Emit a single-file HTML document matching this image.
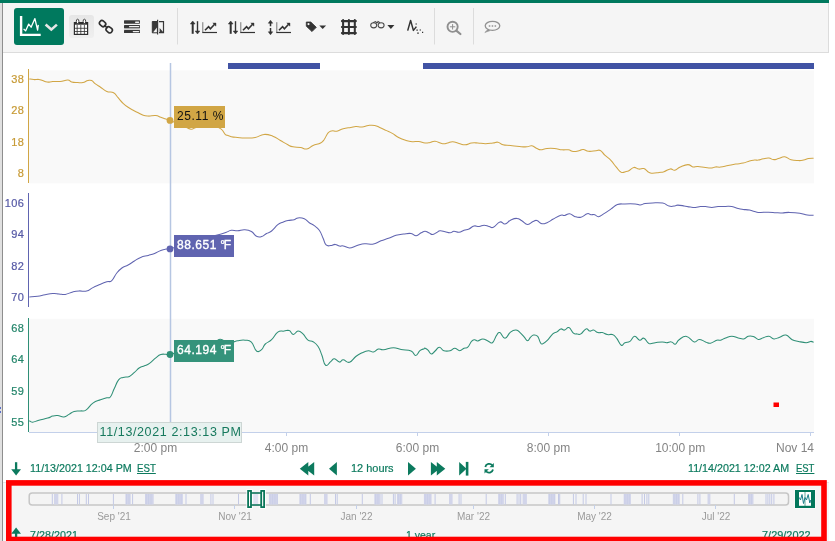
<!DOCTYPE html>
<html><head><meta charset="utf-8"><title>Trend</title>
<style>
html,body{margin:0;padding:0;background:#fff;}
body{width:835px;height:541px;overflow:hidden;position:relative;font-family:"Liberation Sans",sans-serif;}
.abs{position:absolute;}
.t{position:absolute;white-space:nowrap;line-height:1;}
.yl{position:absolute;width:24.4px;text-align:right;font-size:11px;line-height:11px;left:0;letter-spacing:0.4px;-webkit-text-stroke:0.2px currentColor;}
.xl{position:absolute;font-size:12px;line-height:12px;color:#848484;width:80px;text-align:center;top:442px;}
.sl{position:absolute;font-size:10px;line-height:11px;color:#9a9a9a;width:60px;text-align:center;top:511px;}
.g{color:#0c7a5e;font-size:11px;line-height:11px;transform-origin:0 50%;-webkit-text-stroke:0.2px #0c7a5e;}
.dg{letter-spacing:-1.4px;margin-left:-0.6px;}
.wt{-webkit-text-stroke:0.35px #fff;}
.val{position:absolute;height:22px;line-height:21px;font-size:12px;letter-spacing:0.55px;padding-left:3px;box-sizing:border-box;white-space:nowrap;}
</style></head><body>
<div class="abs" style="left:0;top:0;width:829px;height:3px;background:#00795e;"></div>
<div class="abs" style="left:0;top:3px;width:2px;height:538px;background:#e0e0e0;"></div>
<div class="abs" style="left:2px;top:3px;width:1px;height:538px;background:#8e8e8e;"></div>
<div class="abs" style="left:3px;top:3px;width:825px;height:49px;background:#f5f5f5;border-right:1px solid #dcdcdc;border-bottom:1px solid #dcdcdc;"></div>
<div class="abs" style="left:14px;top:8px;width:50px;height:37px;background:#00795e;border-radius:3px;"></div>
<div class="abs" style="left:69px;top:15px;width:25px;height:23px;background:linear-gradient(#e6e6e6,#efefef);border-radius:3px;"></div>

<svg class="abs" style="left:0;top:0;" width="835" height="541" viewBox="0 0 835 541">
<!-- TOOLBAR ICONS -->
<g id="icons">
<!-- trend icon -->
<path d="M21.1 16.1 V34.9 H40.7" fill="none" stroke="#fff" stroke-width="2.4"/>
<path d="M23.6 28.9 L25.6 30.9 L28.7 24.1 L31.1 27.2 L34.9 18.6 L37.6 30.2 L38.3 24.8" fill="none" stroke="#fff" stroke-width="1.3" stroke-linejoin="round"/>
<path d="M45.6 24.6 L51.3 29.6 L56.9 24.6" fill="none" stroke="#e6e6e6" stroke-width="2.6"/>
<!-- calendar -->
<g stroke="#2e2e2e" fill="none">
<rect x="74.4" y="22.6" width="13.2" height="11.8" stroke-width="1.2" fill="#fdfdfd"/>
<path d="M74 23.4 H88" stroke-width="2.6"/>
<path d="M77.2 25 V34.5 M80.8 25 V34.5 M84.4 25 V34.5 M74.5 28.3 H87.5 M74.5 31.5 H87.5" stroke-width="0.8"/>
<ellipse cx="77.6" cy="21.4" rx="1.3" ry="2.2" fill="#fff" stroke-width="0.9"/>
<ellipse cx="84.4" cy="21.4" rx="1.3" ry="2.2" fill="#fff" stroke-width="0.9"/>
</g>
<!-- link -->
<g stroke="#2e2e2e" stroke-width="1.6" fill="none">
<rect x="-3.3" y="-2.5" width="6.6" height="5" rx="2.4" transform="translate(102.6,23.6) rotate(40)"/>
<rect x="-3.3" y="-2.5" width="6.6" height="5" rx="2.4" transform="translate(109.2,29.8) rotate(40)"/>
<path d="M104 25 L107.6 28.3" stroke-width="1.5"/>
</g>
<!-- bars -->
<g>
<rect x="124" y="26.6" width="16" height="4" fill="#d2d2d2"/>
<rect x="124" y="20.3" width="16" height="3.4" rx="0.6" fill="#383838"/><rect x="124" y="25" width="16" height="3.2" rx="0.6" fill="#383838"/><rect x="124" y="29.9" width="16" height="3.2" rx="0.6" fill="#383838"/>
<rect x="135" y="21.6" width="4.3" height="1.4" rx="0.7" fill="#f0f0f0"/><rect x="129" y="26" width="10.3" height="1.3" rx="0.6" fill="#f0f0f0"/><rect x="132.7" y="30.9" width="6.6" height="1.3" rx="0.6" fill="#f0f0f0"/>
</g>
<!-- compare -->
<g>
<path d="M152.3 21.5 H157 V32.8 H152.3 Z" fill="#383838" stroke="#383838" stroke-width="1" stroke-linejoin="round"/>
<path d="M157.6 19.8 V34.5" stroke="#383838" stroke-width="1.2"/>
<path d="M159 21.6 H163.5 V32.7 H159" fill="none" stroke="#383838" stroke-width="1.2"/>
<path d="M153.2 32.3 H156.9 V27.6 Z" fill="#f5f5f5"/>
<path d="M159.6 28 V32.8 H163.8 Z" fill="#383838"/>
</g>
<path d="M177.5 8 V44.5 M434.5 8 V44.5 M473.5 8 V44.5" stroke="#dcdcdc" stroke-width="1"/>
<!-- updown+chart icons -->
<g stroke="#333" fill="#333">
<path d="M192.7 22.5 V33.8" stroke-width="2"/><path d="M190.3 24 L192.7 21 L195.1 24 Z" stroke-width="0.5"/>
<path d="M197.5 21.2 V31.5" stroke-width="1.4"/><path d="M195.2 31 L197.5 34 L199.8 31 Z" stroke-width="0.5"/>
<path d="M202.8 22.2 V32.5" fill="none" stroke="#777" stroke-width="1"/><path d="M202.3 32.5 H217" fill="none" stroke-width="1.2"/>
<path d="M205 30.3 L208.6 26.7 L210.4 28.7 L214.6 24.3" fill="none" stroke-width="1.6"/>
<path d="M212.8 23 H216 V26.2 Z" stroke-width="0.4"/>
</g>
<g transform="translate(38,0)" stroke="#333" fill="#333">
<path d="M192.7 22.5 V33.8" stroke-width="2"/><path d="M190.3 24 L192.7 21 L195.1 24 Z" stroke-width="0.5"/>
<path d="M197.5 21.2 V31.5" stroke-width="1.4"/><path d="M195.2 31 L197.5 34 L199.8 31 Z" stroke-width="0.5"/>
<path d="M202.8 22.2 V32.5" fill="none" stroke="#777" stroke-width="1"/><path d="M202.3 32.5 H217" fill="none" stroke-width="1.2"/>
<path d="M205 30.3 L208.6 26.7 L210.4 28.7 L214.6 24.3" fill="none" stroke-width="1.6"/>
<path d="M212.8 23 H216 V26.2 Z" stroke-width="0.4"/>
</g>

<g stroke="#333" fill="#333">
<path d="M270.5 22 V26.2 M270.5 28 V32.5" stroke-width="1.5"/><path d="M268.3 23.2 L270.5 20.2 L272.7 23.2 Z" stroke-width="0.5"/><path d="M268.3 31.8 L270.5 34.8 L272.7 31.8 Z" stroke-width="0.5"/>
<path d="M276.8 22.2 V32.5" fill="none" stroke="#777" stroke-width="1"/><path d="M276.3 32.5 H291" fill="none" stroke-width="1.2"/>
<path d="M279 30.3 L282.6 26.7 L284.4 28.7 L288.6 24.3" fill="none" stroke-width="1.6"/>
<path d="M286.8 23 H290 V26.2 Z" stroke-width="0.4"/>
</g>
<!-- tag -->
<path d="M306.3 22 H310.8 L316.3 27.3 L312 31.6 L306.3 26.2 Z" fill="#333" stroke="#333" stroke-width="0.8" stroke-linejoin="round"/>
<circle cx="308.5" cy="24.1" r="1.1" fill="#f5f5f5"/>
<path d="M319.3 25.4 H326.1 L322.7 29 Z" fill="#333"/>
<!-- grid -->
<path d="M343.1 19.9 V33.9 M348.9 19.9 V33.9 M354.8 19.9 V33.9 M341.9 21.1 H355.9 M341.9 27 H355.9 M341.9 33.1 H355.9" stroke="#333" stroke-width="2.05" stroke-linecap="round" fill="none"/>
<!-- glasses -->
<g stroke="#4a4a4a" stroke-width="1.05" fill="none">
<ellipse cx="373.7" cy="25.3" rx="3" ry="2.6"/><ellipse cx="381.1" cy="25.3" rx="3" ry="2.6"/>
<path d="M373 22.7 L375.5 21.5 L377.2 23 M380 22.7 L378 21.5 L377.2 23"/>
</g>
<path d="M387.4 24.9 H394.4 L390.9 29 Z" fill="#333"/>
<!-- N dotted -->
<path d="M407.7 30.6 L410.6 20.4 L413.4 30.4 L416.4 26.6" fill="none" stroke="#333" stroke-width="1.5" stroke-linejoin="round"/>
<path d="M415.5 24 h1.4 M416.4 30.2 h1.4 M419.6 30 h1.4 M417.2 33.2 h1.6 M422 32.3 h1.2" stroke="#333" stroke-width="1.2"/>
<!-- zoom -->
<g stroke="#8f8f8f" fill="none">
<circle cx="452.6" cy="26.8" r="5.1" stroke-width="1.9"/>
<path d="M456.6 30.8 L460.4 34" stroke-width="2.2" stroke-linecap="round"/>
<path d="M449.9 26.8 H455.3 M452.6 24.1 V29.5" stroke-width="1"/>
</g>
<!-- comment -->
<g stroke="#929292" fill="none" stroke-width="1.3">
<ellipse cx="492.5" cy="25.8" rx="7.3" ry="4.5"/>
<path d="M487.8 29.6 L484.8 32.5 L490.2 30.6" fill="#929292" stroke-width="0.6"/>
</g>
<path d="M488.8 25.9 h1.5 M491.7 25.9 h1.5 M494.6 25.9 h1.5" stroke="#929292" stroke-width="1.5"/>
</g>

<!-- CHART -->
<rect x="228" y="63" width="92" height="6" fill="#4153a4"/>
<rect x="423" y="63" width="391" height="6" fill="#4153a4"/>
<rect x="29" y="70.4" width="785" height="112.9" fill="#f9f9f9"/>
<rect x="29" y="318.8" width="785" height="113.2" fill="#f9f9f9"/>
<path d="M28.5 69 V183" stroke="#d1a645" stroke-width="1"/>
<path d="M28.5 193 V307" stroke="#6064b0" stroke-width="1"/>
<path d="M28.5 318 V432" stroke="#2f8f76" stroke-width="1"/>
<path d="M29 432.5 H814" stroke="#c3d0ea" stroke-width="1"/>
<path d="M155.5 432 V436 M286.5 432 V436 M417.5 432 V436 M548.5 432 V436 M679.5 432 V436 M810.5 432 V436" stroke="#c3d0ea" stroke-width="1"/>
<path d="M29.3 78.9C30.4 79.1 31.6 79.5 33.8 79.6C36.0 79.7 36.8 79.2 38.9 79.4C41.0 79.6 40.7 80.0 42.6 80.6C44.5 81.2 44.8 81.9 47.2 82.1C49.6 82.3 49.7 81.8 52.7 81.6C55.7 81.4 56.7 81.8 60.2 81.4C63.7 81.1 65.1 80.0 67.8 80.1C70.5 80.2 69.3 81.3 71.6 81.9C73.9 82.5 75.2 82.4 77.8 82.6C80.4 82.8 80.5 83.1 82.9 82.6C85.3 82.1 85.8 81.1 87.9 80.6C90.0 80.1 90.0 79.8 91.7 80.6C93.5 81.4 93.3 82.4 95.4 83.9C97.5 85.4 97.8 85.5 100.5 87.2C103.2 89.0 103.7 90.1 106.8 91.4C109.9 92.7 111.0 91.2 113.6 92.7C116.2 94.2 115.9 95.2 118.1 97.7C120.3 100.2 120.8 101.1 123.1 103.3C125.4 105.5 125.7 105.7 128.1 107.3C130.5 108.9 130.8 109.0 133.2 110.3C135.6 111.6 135.9 111.6 138.2 112.8C140.5 114.0 140.8 114.5 143.2 115.3C145.6 116.1 145.4 116.0 148.3 116.1C151.2 116.2 152.9 115.3 155.8 115.6C158.7 115.9 158.4 116.5 160.8 117.3C163.2 118.1 163.8 118.4 165.9 119.1C168.0 119.8 167.3 119.5 169.6 120.4C171.9 121.3 172.7 121.6 175.9 122.9C179.1 124.2 180.0 124.4 183.5 125.9C187.0 127.4 188.1 128.8 191.0 129.2C193.9 129.5 192.5 128.2 196.0 127.4C199.5 126.6 201.7 126.2 206.1 125.9C210.5 125.6 211.4 125.1 214.9 125.9C218.4 126.7 218.8 127.3 221.2 129.2C223.6 131.1 223.8 132.9 225.0 134.2C226.2 135.5 224.7 134.3 226.2 134.9C227.7 135.5 228.6 136.1 231.3 136.7C234.0 137.3 234.4 137.2 237.6 137.5C240.8 137.8 241.0 138.0 245.1 138.0C249.2 138.0 250.8 138.3 255.2 137.5C259.6 136.7 259.9 134.7 264.0 134.4C268.1 134.1 269.0 134.8 272.8 136.2C276.6 137.6 276.9 138.5 280.4 140.5C283.9 142.5 285.0 143.3 287.9 144.8C290.8 146.3 290.0 146.2 292.9 146.8C295.8 147.4 297.3 147.0 300.5 147.5C303.7 148.0 303.9 149.5 306.8 149.0C309.7 148.5 309.9 146.9 313.1 145.5C316.3 144.1 318.0 144.5 320.6 143.0C323.2 141.5 322.6 141.6 324.4 139.2C326.1 136.8 326.4 134.8 328.1 132.9C329.9 131.0 329.8 131.3 331.9 130.9C334.0 130.5 334.3 131.7 336.9 131.2C339.5 130.7 340.0 129.6 343.2 128.7C346.4 127.8 347.9 127.9 350.8 127.4C353.7 126.9 353.2 126.7 355.8 126.6C358.4 126.5 359.2 127.2 362.1 126.9C365.0 126.6 365.5 125.8 368.4 125.4C371.3 125.1 372.1 124.9 374.7 125.4C377.3 125.9 377.1 126.2 379.7 127.4C382.3 128.6 383.1 129.0 386.0 130.4C388.9 131.8 389.4 131.7 392.3 133.4C395.2 135.1 395.4 135.8 398.6 137.5C401.8 139.2 402.9 139.5 406.1 140.5C409.3 141.5 409.5 141.5 412.4 141.7C415.3 141.9 415.8 141.2 418.7 141.5C421.6 141.8 422.4 142.8 425.0 143.0C427.6 143.2 427.6 142.9 430.0 142.5C432.4 142.1 432.2 140.9 435.1 141.2C438.0 141.5 439.7 143.3 442.6 143.7C445.5 144.1 445.2 143.5 447.6 143.0C450.0 142.5 450.0 141.6 452.7 141.7C455.4 141.8 456.1 142.8 459.0 143.5C461.9 144.2 462.3 144.9 465.2 144.8C468.1 144.7 468.6 143.4 471.5 143.0C474.4 142.6 474.6 142.8 477.8 143.0C481.0 143.2 481.9 143.7 485.4 143.7C488.9 143.7 490.0 143.3 492.9 143.0C495.8 142.7 495.5 141.8 497.9 142.2C500.3 142.6 500.1 144.0 503.0 144.8C505.9 145.6 506.7 145.1 510.5 145.5C514.3 145.9 515.5 146.2 519.3 146.5C523.1 146.8 524.0 147.0 526.9 146.8C529.8 146.6 529.6 145.4 531.9 145.8C534.2 146.2 534.8 147.6 536.9 148.5C539.0 149.4 538.3 149.8 540.7 149.8C543.1 149.8 543.8 148.8 547.0 148.5C550.2 148.2 551.0 148.2 554.5 148.5C558.0 148.8 558.9 149.5 562.1 149.8C565.3 150.1 565.8 149.4 568.4 149.8C571.0 150.2 570.8 151.3 573.4 151.5C576.0 151.7 577.4 151.0 579.7 150.5C582.0 150.0 581.3 149.3 583.4 149.5C585.5 149.7 585.6 151.0 588.5 151.3C591.4 151.6 593.2 151.0 596.0 150.8C598.8 150.6 598.2 149.5 600.3 150.5C602.4 151.5 602.3 152.7 604.8 155.1C607.3 157.5 608.5 157.8 611.1 160.6C613.7 163.4 613.7 164.2 616.1 166.9C618.5 169.6 618.8 171.1 621.2 172.2C623.6 173.2 624.4 171.8 626.2 171.4C628.0 171.1 627.0 171.6 628.8 170.7C630.6 169.8 631.5 167.8 633.8 167.4C636.1 167.0 636.4 168.8 638.8 169.1C641.2 169.4 641.5 167.8 643.9 168.6C646.3 169.4 646.8 171.3 648.9 172.4C651.0 173.5 650.3 173.2 652.7 173.2C655.1 173.2 656.4 172.8 659.0 172.4C661.6 172.1 661.4 172.5 664.0 171.7C666.6 170.9 667.8 169.2 670.3 168.9C672.8 168.6 672.5 170.7 674.8 170.2C677.1 169.7 677.2 168.2 680.3 166.9C683.4 165.6 685.0 164.6 687.9 164.6C690.8 164.6 690.6 166.4 692.9 166.9C695.2 167.4 695.0 166.4 697.9 166.6C700.8 166.8 702.3 167.3 705.5 167.6C708.7 167.9 709.5 168.1 711.8 167.9C714.1 167.7 713.4 167.1 715.5 166.9C717.6 166.7 717.7 167.4 720.6 167.1C723.5 166.8 724.6 166.3 728.1 165.6C731.6 164.9 732.2 164.7 735.7 164.1C739.2 163.5 740.0 163.8 743.2 163.1C746.4 162.4 746.9 161.6 749.5 160.9C752.1 160.2 752.4 160.3 754.5 160.1C756.6 159.9 756.2 160.4 758.3 160.1C760.4 159.8 760.8 159.3 763.3 158.8C765.8 158.3 766.5 157.9 768.9 158.1C771.3 158.3 771.2 159.5 773.4 159.6C775.6 159.7 775.8 159.3 778.4 158.6C781.0 157.9 781.8 156.5 784.7 156.8C787.6 157.1 787.8 158.9 791.0 159.8C794.2 160.7 795.6 160.5 798.5 160.6C801.4 160.7 801.2 160.6 803.6 160.1C806.0 159.6 806.3 159.0 808.6 158.6C810.9 158.2 812.4 158.4 813.6 158.3" fill="none" stroke="#d1a645" stroke-width="1.05" stroke-linejoin="round"/>
<path d="M29.3 296.9C31.2 296.7 33.9 296.7 37.6 296.2C41.3 295.7 41.6 295.3 45.1 294.7C48.6 294.1 49.5 293.8 52.7 293.6C55.9 293.4 56.1 293.7 59.0 293.9C61.9 294.1 62.1 294.9 65.3 294.4C68.5 293.9 69.6 292.7 72.8 291.9C76.0 291.1 75.9 291.1 79.1 290.9C82.3 290.7 83.4 291.9 86.6 291.1C89.8 290.3 89.7 289.2 92.9 287.6C96.1 286.0 97.3 285.7 100.5 284.3C103.7 282.9 104.2 282.7 106.8 281.8C109.4 280.9 109.5 282.7 111.8 280.6C114.1 278.5 114.4 275.9 116.8 273.0C119.2 270.1 119.3 269.9 121.9 268.0C124.5 266.1 125.2 266.6 128.1 265.0C131.0 263.4 131.5 262.8 134.4 261.0C137.3 259.2 137.5 258.7 140.7 257.4C143.9 256.1 145.1 256.3 148.3 255.4C151.5 254.5 151.7 254.6 154.6 253.4C157.5 252.2 158.2 251.4 160.8 250.4C163.4 249.4 163.8 249.4 165.9 249.1C168.0 248.8 166.1 249.8 169.6 248.9C173.1 248.0 174.8 247.3 181.0 245.4C187.2 243.5 189.0 242.9 196.0 240.8C203.0 238.7 205.2 238.2 211.1 236.6C217.0 235.0 217.7 235.0 221.2 234.0C224.7 233.0 223.9 233.2 226.3 232.3C228.7 231.4 228.7 230.7 231.3 230.3C233.9 230.0 234.5 230.9 237.6 230.8C240.7 230.7 241.4 229.6 244.6 229.8C247.8 230.0 248.6 230.0 251.4 231.5C254.2 233.0 254.1 235.1 256.5 236.3C258.9 237.5 259.2 237.3 261.5 236.6C263.8 235.9 264.1 234.8 266.5 233.5C268.9 232.2 269.0 233.1 271.6 231.0C274.2 228.9 275.2 226.8 277.8 224.7C280.4 222.6 280.5 223.2 282.9 222.2C285.3 221.2 285.3 221.1 287.9 220.5C290.5 219.9 291.8 220.3 294.2 219.7C296.6 219.1 295.6 218.1 298.0 217.9C300.4 217.7 301.7 217.6 304.3 218.7C306.9 219.8 307.0 221.1 309.3 222.7C311.6 224.3 312.0 223.9 314.3 225.7C316.6 227.5 317.2 227.4 319.3 230.3C321.4 233.2 321.5 234.9 323.1 238.3C324.7 241.7 324.3 243.2 326.1 244.9C327.9 246.6 328.6 245.7 330.7 245.6C332.8 245.5 333.1 244.3 335.2 244.4C337.3 244.5 337.6 245.8 339.5 246.1C341.4 246.4 340.9 245.5 343.2 245.9C345.5 246.3 346.6 247.9 349.5 247.9C352.4 247.9 352.9 247.0 355.8 246.1C358.7 245.2 359.2 244.4 362.1 243.9C365.0 243.4 365.8 243.9 368.4 243.9C371.0 243.9 370.5 244.8 373.4 244.1C376.3 243.4 377.5 242.2 381.0 240.8C384.5 239.4 385.0 239.6 388.5 238.3C392.0 237.0 392.5 236.3 396.0 235.3C399.5 234.3 400.1 234.4 403.6 234.0C407.1 233.6 408.2 233.1 411.1 233.5C414.0 233.9 413.8 236.0 416.2 235.8C418.6 235.6 419.1 233.9 421.2 232.8C423.3 231.8 423.2 231.3 425.0 231.3C426.8 231.3 427.1 232.1 428.8 232.8C430.6 233.5 430.8 234.5 432.5 234.5C434.2 234.5 434.5 233.7 436.3 232.8C438.1 231.9 438.0 231.0 440.1 230.8C442.2 230.6 442.8 231.3 445.1 231.8C447.4 232.3 448.0 232.9 450.1 232.8C452.2 232.7 451.8 231.4 453.9 231.3C456.0 231.2 456.6 232.5 459.0 232.3C461.4 232.1 461.7 231.1 464.0 230.3C466.3 229.5 466.7 230.0 469.0 229.0C471.3 228.0 471.6 226.6 474.0 226.0C476.4 225.4 476.7 226.7 479.1 226.5C481.5 226.3 481.8 225.2 484.1 225.2C486.4 225.2 486.9 226.0 489.1 226.5C491.3 227.0 490.9 228.4 493.4 227.3C495.9 226.2 497.2 222.8 499.9 222.0C502.6 221.2 502.5 224.4 505.0 224.0C507.5 223.6 507.7 221.5 510.5 220.2C513.3 218.9 514.2 218.3 516.8 218.4C519.4 218.5 519.3 219.3 521.8 220.7C524.3 222.1 525.0 224.3 527.6 224.5C530.2 224.7 530.9 222.4 533.1 221.5C535.3 220.6 534.8 220.0 536.9 220.5C539.0 221.0 539.5 223.2 541.9 223.7C544.3 224.2 544.3 223.8 547.0 222.7C549.7 221.6 550.1 220.8 553.3 219.0C556.5 217.2 558.2 216.0 560.8 215.2C563.4 214.4 562.5 215.8 564.6 215.4C566.7 215.1 567.3 213.5 569.6 213.7C571.9 213.9 572.0 215.6 574.6 216.4C577.2 217.2 578.0 217.8 580.9 217.2C583.8 216.6 584.8 214.3 587.2 213.7C589.6 213.1 589.2 214.5 591.0 214.7C592.8 214.9 593.0 214.2 594.8 214.7C596.5 215.2 596.4 216.9 598.5 216.7C600.6 216.5 600.7 215.7 603.6 213.9C606.5 212.1 607.9 211.1 611.1 208.9C614.3 206.7 614.2 205.8 617.4 204.6C620.6 203.4 620.8 204.1 624.9 203.9C629.0 203.7 631.6 203.7 635.1 203.9C638.6 204.1 637.8 205.0 640.1 204.9C642.4 204.8 642.2 204.1 645.1 203.6C648.0 203.1 648.6 203.0 652.7 202.9C656.8 202.8 658.9 202.4 662.7 203.1C666.5 203.8 666.4 205.4 669.0 206.1C671.6 206.8 671.9 206.3 674.0 206.1C676.1 205.9 675.4 205.1 677.8 205.1C680.2 205.1 681.2 205.4 684.1 205.9C687.0 206.4 687.8 206.8 690.4 207.1C693.0 207.4 693.1 207.5 695.4 207.4C697.7 207.3 698.0 206.8 700.4 206.6C702.8 206.4 702.8 206.4 705.5 206.6C708.2 206.8 708.9 207.4 711.8 207.4C714.7 207.4 714.9 206.8 718.1 206.6C721.3 206.4 722.4 206.4 725.6 206.4C728.8 206.4 729.0 206.1 731.9 206.6C734.8 207.1 735.6 207.7 738.2 208.4C740.8 209.1 740.6 209.0 743.2 209.4C745.8 209.8 746.3 209.4 749.5 210.1C752.7 210.8 754.4 211.7 757.0 212.2C759.6 212.7 758.1 212.4 760.8 212.4C763.5 212.4 764.9 212.1 768.4 212.2C771.9 212.3 772.7 212.5 775.9 212.7C779.1 212.9 779.0 213.0 782.2 212.9C785.4 212.8 785.6 212.3 789.7 212.4C793.8 212.5 795.7 212.6 799.8 213.2C803.9 213.8 804.1 214.4 807.3 214.9C810.5 215.4 812.1 215.1 813.6 215.2" fill="none" stroke="#6064b0" stroke-width="1.05" stroke-linejoin="round"/>
<path d="M29.3 420.7C30.1 421.1 30.4 422.3 32.6 422.2C34.8 422.1 35.4 421.2 38.9 420.2C42.4 419.2 44.5 419.1 47.7 418.1C50.9 417.1 50.4 416.7 52.7 416.1C55.0 415.5 55.1 415.4 57.7 415.6C60.3 415.8 61.4 417.2 64.0 416.9C66.6 416.6 66.6 415.7 69.0 414.4C71.4 413.1 71.4 412.2 74.1 411.4C76.8 410.6 77.6 411.2 80.4 410.9C83.2 410.6 83.0 411.9 85.9 410.1C88.8 408.3 89.5 405.5 92.9 403.1C96.3 400.7 97.3 401.0 100.5 399.8C103.7 398.6 104.5 398.5 106.8 397.8C109.1 397.1 108.8 399.0 110.5 396.8C112.2 394.6 112.4 392.4 114.3 388.5C116.2 384.6 116.5 382.5 118.6 379.9C120.7 377.3 120.6 378.2 123.1 377.4C125.6 376.6 126.8 377.6 129.4 376.4C132.0 375.2 132.0 374.4 134.4 372.4C136.8 370.4 137.1 369.3 139.5 367.8C141.9 366.3 142.2 366.9 144.5 365.8C146.8 364.8 146.9 365.2 149.5 363.3C152.1 361.4 153.2 359.9 155.8 357.8C158.4 355.7 158.4 355.3 160.8 354.5C163.2 353.7 163.8 354.3 165.9 354.3C168.0 354.3 166.1 355.2 169.6 354.5C173.1 353.8 174.8 353.1 181.0 351.5C187.2 349.9 189.0 349.5 196.0 347.7C203.0 345.9 206.1 345.4 211.1 343.7C216.1 342.0 215.2 341.4 217.4 340.4C219.6 339.3 218.9 339.2 220.4 339.2C221.9 339.2 222.0 340.0 223.7 340.4C225.4 340.8 225.4 340.3 227.5 340.7C229.6 341.1 230.2 341.9 232.6 341.9C235.0 341.9 234.7 341.1 237.6 340.7C240.5 340.3 241.9 339.8 245.1 340.2C248.3 340.6 248.7 339.7 251.4 342.2C254.1 344.7 254.1 349.2 256.5 351.0C258.9 352.8 259.4 351.3 261.5 349.7C263.6 348.1 262.9 346.3 265.3 344.0C267.7 341.7 268.7 342.5 271.6 339.7C274.5 336.9 274.9 334.1 277.8 332.1C280.7 330.1 281.4 331.5 284.1 331.1C286.8 330.8 287.0 329.8 289.2 330.6C291.4 331.4 291.3 334.3 293.4 334.4C295.5 334.5 295.8 331.2 298.0 331.1C300.2 331.0 300.7 331.8 303.0 333.9C305.3 336.0 305.6 338.4 308.0 340.2C310.4 342.0 310.7 340.2 313.1 341.7C315.5 343.2 316.0 343.3 318.1 346.5C320.2 349.7 320.1 350.9 321.9 355.3C323.6 359.7 323.5 363.8 325.6 365.3C327.7 366.8 328.6 363.1 330.7 361.6C332.8 360.1 332.3 358.7 334.4 358.8C336.5 358.9 337.4 361.9 339.5 362.1C341.6 362.3 340.9 359.8 343.2 359.8C345.5 359.8 346.6 363.1 349.5 362.3C352.4 361.5 352.9 358.7 355.8 356.5C358.7 354.3 359.2 354.2 362.1 352.8C365.0 351.4 365.8 350.9 368.4 350.7C371.0 350.5 371.1 352.4 373.4 352.0C375.7 351.6 376.0 349.5 378.4 349.0C380.8 348.5 380.0 350.0 383.5 349.7C387.0 349.4 389.4 347.7 393.5 347.7C397.6 347.7 397.0 348.7 401.1 349.5C405.2 350.3 407.7 349.6 411.1 351.0C414.5 352.4 413.6 355.6 415.7 355.5C417.8 355.4 417.9 352.3 419.9 350.7C421.9 349.1 423.0 349.3 424.2 348.7C425.4 348.1 424.1 347.8 425.0 348.2C425.9 348.6 426.5 348.8 428.0 350.2C429.5 351.6 429.6 353.8 431.3 354.0C433.0 354.2 433.2 352.6 435.1 351.0C437.0 349.4 437.2 347.3 439.3 347.2C441.4 347.1 441.4 349.9 443.9 350.7C446.4 351.5 447.6 351.3 450.1 350.7C452.6 350.1 452.5 348.2 454.7 348.2C456.9 348.2 457.5 350.7 459.7 350.7C461.9 350.7 462.1 349.0 464.0 348.2C465.9 347.4 466.1 348.8 467.8 347.2C469.6 345.6 469.9 343.1 471.5 341.4C473.1 339.6 473.0 339.8 474.5 339.7C476.0 339.6 475.9 341.1 477.8 340.9C479.7 340.7 480.4 338.9 482.8 338.9C485.2 338.9 485.7 340.0 487.9 340.9C490.1 341.8 490.3 344.1 492.4 342.7C494.5 341.3 494.9 337.5 496.7 335.1C498.4 332.7 498.0 331.9 499.9 332.6C501.8 333.3 502.5 338.3 505.0 338.2C507.5 338.1 507.9 334.0 510.5 332.1C513.1 330.2 513.6 329.9 516.0 330.1C518.4 330.3 518.7 331.4 520.6 333.1C522.5 334.8 522.7 335.4 524.3 337.2C525.9 339.0 526.1 340.7 527.6 340.7C529.1 340.7 529.2 338.5 530.6 337.2C532.0 335.9 531.9 335.3 533.6 335.1C535.3 334.9 536.2 334.7 537.7 336.4C539.2 338.1 539.1 340.4 540.2 342.2C541.3 344.0 540.8 344.4 542.4 344.0C544.0 343.6 544.6 343.1 547.0 340.7C549.4 338.3 550.5 336.0 552.8 333.9C555.1 331.8 555.1 333.1 557.0 331.9C558.9 330.7 559.0 329.3 560.8 328.9C562.6 328.5 562.7 330.4 564.6 330.1C566.5 329.8 566.8 326.9 568.9 327.6C571.0 328.3 571.5 331.6 573.4 333.1C575.3 334.6 575.5 333.7 577.2 333.9C579.0 334.1 578.8 335.1 580.9 333.9C583.0 332.7 583.9 329.6 586.0 328.9C588.1 328.2 588.0 330.8 589.7 331.1C591.5 331.4 591.6 329.8 593.5 330.1C595.4 330.5 595.9 332.0 598.0 332.6C600.1 333.2 600.1 332.1 602.3 332.6C604.5 333.1 604.9 334.1 607.3 334.6C609.7 335.1 610.2 333.8 612.4 334.6C614.6 335.4 614.5 335.7 616.6 338.2C618.7 340.7 619.3 344.1 621.2 345.2C623.1 346.2 622.8 343.6 624.9 342.7C627.0 341.8 627.7 342.9 630.0 341.4C632.3 339.9 632.4 336.5 634.6 336.2C636.8 335.9 637.4 339.7 639.6 340.2C641.8 340.7 641.7 337.5 643.9 338.2C646.1 338.9 646.3 342.3 648.9 343.4C651.5 344.4 652.1 343.1 655.2 342.7C658.3 342.3 659.6 341.9 662.2 341.9C664.8 341.9 664.3 342.7 666.5 342.7C668.7 342.7 669.4 341.5 671.5 341.9C673.6 342.2 673.5 344.7 675.3 344.2C677.1 343.7 676.5 341.5 679.1 339.7C681.7 337.9 683.1 335.9 686.6 336.4C690.1 336.9 691.3 341.2 694.2 341.9C697.1 342.6 696.6 339.4 699.2 339.4C701.8 339.4 702.9 341.0 705.5 341.9C708.1 342.8 707.9 343.6 710.5 343.2C713.1 342.8 714.4 340.9 716.8 340.2C719.2 339.5 718.5 340.7 720.6 340.2C722.7 339.7 723.0 338.8 725.6 337.9C728.2 337.0 729.0 336.2 731.9 336.2C734.8 336.2 735.4 337.3 738.2 337.9C741.0 338.5 741.4 339.3 743.7 338.9C746.0 338.5 746.0 336.8 748.2 336.2C750.4 335.6 750.9 335.7 753.3 336.4C755.7 337.1 756.0 339.1 758.3 339.4C760.6 339.7 760.8 338.4 763.3 337.7C765.8 337.0 766.4 335.9 768.9 336.2C771.4 336.5 771.4 338.7 773.9 338.9C776.4 339.1 776.9 338.1 779.7 337.2C782.5 336.3 783.1 334.5 786.0 335.1C788.9 335.7 789.3 338.2 792.2 339.7C795.1 341.2 795.3 340.7 798.5 341.4C801.7 342.1 803.3 342.7 806.1 342.7C808.9 342.7 808.9 341.5 810.6 341.4C812.4 341.3 812.9 342.0 813.6 342.2" fill="none" stroke="#2f8f76" stroke-width="1.05" stroke-linejoin="round"/>
<rect x="773.5" y="402.5" width="5.5" height="4.5" fill="#ff0000"/>
<path d="M170.5 63 V423" stroke="#b6c6e2" stroke-width="1.5"/>
<circle cx="170" cy="120.4" r="3.4" fill="#d1a645"/>
<circle cx="170" cy="248.9" r="3.4" fill="#6064b0"/>
<circle cx="170" cy="354.5" r="3.4" fill="#2f8f76"/>
<rect x="0" y="407" width="1" height="2" fill="#5b6fc9"/><rect x="0" y="411" width="1" height="2" fill="#5b6fc9"/>

<!-- BOTTOM NAV ICONS -->
<g fill="#0c7a5e" stroke="#0c7a5e">
<path d="M16.1 462.2 V471" stroke-width="2.3" fill="none"/><path d="M11.2 469.3 H21 L16.1 475.5 Z" stroke="none"/>
<path d="M299.8 468.7 L308.3 461.9 V475.6 Z M305.6 468.7 L314.2 461.9 V475.6 Z" stroke="none"/>
<path d="M329 468.7 L336.9 461.9 V475.6 Z" stroke="none"/>
<path d="M415.9 468.7 L408 461.9 V475.6 Z" stroke="none"/>
<path d="M445.3 468.7 L436.8 461.9 V475.6 Z M439.5 468.7 L430.9 461.9 V475.6 Z" stroke="none"/>
<path d="M466.5 468.7 L459.2 461.9 V475.6 Z" stroke="none"/><rect x="465.8" y="461.9" width="2.6" height="13.7" stroke="none"/>
<path d="M485.3 467 A4 4 0 0 1 492.3 465.3" fill="none" stroke-width="1.8"/><path d="M493.8 463 V467.3 H489.5 Z" stroke="none"/>
<path d="M493 469.5 A4 4 0 0 1 486 471.2" fill="none" stroke-width="1.8"/><path d="M484.5 473.5 V469.2 H488.8 Z" stroke="none"/>
</g>

<!-- SLIDER PANEL -->
<rect x="3" y="482" width="826" height="1" fill="#e6e6e6"/><rect x="3" y="483" width="826" height="58" fill="#f7f7f7"/><rect x="8.8" y="482.9" width="815.2" height="56.6" fill="#f5f5f5"/>
<rect x="29.2" y="493" width="759.3" height="12" rx="3" fill="#f4f4f4" stroke="#c6c6c6" stroke-width="1.5"/>
<g fill="#d2d5ea"><rect x="54" y="494" width="4.3" height="10.5"/><rect x="125.4" y="494" width="5.3" height="10.5"/><rect x="145" y="494" width="8.7" height="10.5"/><rect x="175.2" y="494" width="7.7" height="10.5"/><rect x="200.1" y="494" width="3.6" height="10.5"/><rect x="253.3" y="494" width="4.8" height="10.5"/><rect x="268.9" y="494" width="8.9" height="10.5"/><rect x="299.3" y="494" width="7.2" height="10.5"/><rect x="324" y="494" width="3.6" height="10.5"/><rect x="374.3" y="494" width="6.4" height="10.5"/><rect x="397" y="494" width="5.3" height="10.5"/><rect x="423.9" y="494" width="7.7" height="10.5"/><rect x="449" y="494" width="3.6" height="10.5"/><rect x="498.1" y="494" width="5.8" height="10.5"/><rect x="522.6" y="494" width="4.3" height="10.5"/><rect x="548.2" y="494" width="7.2" height="10.5"/><rect x="623.7" y="494" width="7.2" height="10.5"/><rect x="672.8" y="494" width="6.9" height="10.5"/><rect x="707.5" y="494" width="2.9" height="10.5"/><rect x="748" y="494" width="5.5" height="10.5"/></g><g fill="#c4c9e5"><rect x="51.8" y="494" width="1" height="10.5"/><rect x="61.4" y="494" width="1" height="10.5"/><rect x="77.0" y="494" width="1" height="10.5"/><rect x="78.9" y="494" width="1" height="10.5"/><rect x="85.8" y="494" width="1" height="10.5"/><rect x="88.0" y="494" width="1" height="10.5"/><rect x="112.9" y="494" width="1" height="10.5"/><rect x="132.1" y="494" width="1" height="10.5"/><rect x="185.5" y="494" width="1" height="10.5"/><rect x="210.4" y="494" width="1" height="10.5"/><rect x="212.5" y="494" width="1" height="10.5"/><rect x="238.0" y="494" width="1" height="10.5"/><rect x="309.8" y="494" width="1" height="10.5"/><rect x="335.0" y="494" width="1" height="10.5"/><rect x="336.7" y="494" width="1" height="10.5"/><rect x="361.8" y="494" width="1" height="10.5"/><rect x="381.5" y="494" width="1" height="10.5"/><rect x="392.9" y="494" width="1" height="10.5"/><rect x="394.6" y="494" width="1" height="10.5"/><rect x="434.6" y="494" width="1" height="10.5"/><rect x="458.6" y="494" width="1" height="10.5"/><rect x="460.5" y="494" width="1" height="10.5"/><rect x="485.7" y="494" width="1" height="10.5"/><rect x="504.8" y="494" width="1" height="10.5"/><rect x="516.6" y="494" width="1" height="10.5"/><rect x="518.5" y="494" width="1" height="10.5"/><rect x="520.2" y="494" width="1" height="10.5"/><rect x="558.0" y="494" width="1" height="10.5"/><rect x="559.2" y="494" width="1" height="10.5"/><rect x="572.9" y="494" width="1" height="10.5"/><rect x="575.5" y="494" width="1" height="10.5"/><rect x="582.7" y="494" width="1" height="10.5"/><rect x="585.5" y="494" width="1" height="10.5"/><rect x="610.5" y="494" width="1" height="10.5"/><rect x="641.6" y="494" width="1" height="10.5"/><rect x="644.0" y="494" width="1" height="10.5"/><rect x="646.4" y="494" width="1" height="10.5"/><rect x="648.3" y="494" width="1" height="10.5"/><rect x="682.3" y="494" width="1" height="10.5"/><rect x="697.4" y="494" width="1" height="10.5"/><rect x="699.4" y="494" width="1" height="10.5"/><rect x="733.8" y="494" width="1" height="10.5"/><rect x="765.5" y="494" width="1" height="10.5"/><rect x="767.4" y="494" width="1" height="10.5"/><rect x="769.3" y="494" width="1" height="10.5"/><rect x="771.2" y="494" width="1" height="10.5"/><rect x="773.4" y="494" width="1" height="10.5"/></g><g fill="#c9cde7"><rect x="126.2" y="494" width="0.8" height="10.5"/><rect x="128.6" y="494" width="0.8" height="10.5"/><rect x="145.8" y="494" width="0.8" height="10.5"/><rect x="148.2" y="494" width="0.8" height="10.5"/><rect x="150.6" y="494" width="0.8" height="10.5"/><rect x="176.0" y="494" width="0.8" height="10.5"/><rect x="178.4" y="494" width="0.8" height="10.5"/><rect x="180.8" y="494" width="0.8" height="10.5"/><rect x="269.7" y="494" width="0.8" height="10.5"/><rect x="272.1" y="494" width="0.8" height="10.5"/><rect x="274.5" y="494" width="0.8" height="10.5"/><rect x="276.9" y="494" width="0.8" height="10.5"/><rect x="300.1" y="494" width="0.8" height="10.5"/><rect x="302.5" y="494" width="0.8" height="10.5"/><rect x="304.9" y="494" width="0.8" height="10.5"/><rect x="375.1" y="494" width="0.8" height="10.5"/><rect x="377.5" y="494" width="0.8" height="10.5"/><rect x="397.8" y="494" width="0.8" height="10.5"/><rect x="400.2" y="494" width="0.8" height="10.5"/><rect x="424.7" y="494" width="0.8" height="10.5"/><rect x="427.1" y="494" width="0.8" height="10.5"/><rect x="429.5" y="494" width="0.8" height="10.5"/><rect x="498.9" y="494" width="0.8" height="10.5"/><rect x="501.3" y="494" width="0.8" height="10.5"/><rect x="549.0" y="494" width="0.8" height="10.5"/><rect x="551.4" y="494" width="0.8" height="10.5"/><rect x="553.8" y="494" width="0.8" height="10.5"/><rect x="624.5" y="494" width="0.8" height="10.5"/><rect x="626.9" y="494" width="0.8" height="10.5"/><rect x="629.3" y="494" width="0.8" height="10.5"/><rect x="673.6" y="494" width="0.8" height="10.5"/><rect x="676.0" y="494" width="0.8" height="10.5"/><rect x="678.4" y="494" width="0.8" height="10.5"/><rect x="748.8" y="494" width="0.8" height="10.5"/><rect x="751.2" y="494" width="0.8" height="10.5"/></g>
<path d="M113.5 505 V509 M234.5 505 V509 M356.5 505 V509 M473.5 505 V509 M594.5 505 V509 M715.5 505 V509" stroke="#c3d0ea" stroke-width="1"/>
<rect x="251" y="494" width="10" height="10.5" fill="#fff" opacity="0.35"/>
<g stroke="#fff" stroke-width="3.4" fill="none"><rect x="248.1" y="490.9" width="2.9" height="16.2"/><rect x="261.2" y="490.9" width="2.9" height="16.2"/></g>
<g stroke="#0a7659" stroke-width="1.8" fill="#fff">
<path d="M251 492.9 H261 M251 505.1 H261" fill="none" stroke-width="1.5"/>
<rect x="248.1" y="490.9" width="2.9" height="16.2"/>
<rect x="261.2" y="490.9" width="2.9" height="16.2"/>
</g>
<rect x="794.5" y="489.5" width="21" height="19" fill="#fff"/>
<rect x="795" y="490" width="20" height="18" fill="#03775b"/>
<rect x="799" y="492" width="5.7" height="13.8" fill="#fff"/><rect x="805.3" y="492" width="5.7" height="13.8" fill="#fff"/>
<path d="M799.3 497.5 L800.5 500 L802 494.5 L803.5 503.5 L805 497.5 L806.5 500 L808.2 494.5 L809.8 503 L810.8 500" fill="none" stroke="#1d7f8a" stroke-width="1" stroke-linejoin="round"/>
<g fill="#0c7a5e" stroke="#0c7a5e">
<path d="M16.1 532 V541" stroke-width="2.3" fill="none"/><path d="M11.2 533.8 H21 L16.1 527.6 Z" stroke="none"/>
</g>
</svg>

<!-- Y LABELS -->
<div class="yl" style="top:73.5px;color:#c79a35">38</div>
<div class="yl" style="top:104.8px;color:#c79a35">28</div>
<div class="yl" style="top:136.8px;color:#c79a35">18</div>
<div class="yl" style="top:167.5px;color:#c79a35">8</div>
<div class="yl" style="top:197.5px;color:#5558a5">106</div>
<div class="yl" style="top:228.8px;color:#5558a5">94</div>
<div class="yl" style="top:260.5px;color:#5558a5">82</div>
<div class="yl" style="top:292px;color:#5558a5">70</div>
<div class="yl" style="top:322.5px;color:#23856a">68</div>
<div class="yl" style="top:353.5px;color:#23856a">64</div>
<div class="yl" style="top:385.6px;color:#23856a">59</div>
<div class="yl" style="top:416.5px;color:#23856a">55</div>

<!-- VALUE LABELS -->
<div class="val" style="left:174px;top:106px;width:51px;background:#d1a645;color:#111;">25.11 %</div>
<div class="val" style="left:174px;top:235px;width:60px;background:#6064b0;color:#fff;"><span class="wt">88.651 <span class="dg">°</span>F</span></div>
<div class="val" style="left:174px;top:340px;width:60px;background:#35937b;color:#fff;"><span class="wt">64.194 <span class="dg">°</span>F</span></div>
<div class="abs" style="left:97px;top:422.4px;width:145px;height:20.6px;box-sizing:border-box;background:#e7f1ef;border:1px solid #cdd6d4;color:#16795d;font-size:12.5px;line-height:19px;letter-spacing:0.62px;padding-left:1.5px;white-space:nowrap;">11/13/2021 2:13:13 PM</div>

<!-- X LABELS -->
<div class="xl" style="left:115.5px;">2:00 pm</div>
<div class="xl" style="left:246.5px;">4:00 pm</div>
<div class="xl" style="left:377.5px;">6:00 pm</div>
<div class="xl" style="left:508.5px;">8:00 pm</div>
<div class="xl" style="left:640.2px;">10:00 pm</div>
<div class="xl" style="left:734px;text-align:right;">Nov 14</div>

<!-- BOTTOM ROW -->
<div class="t g" style="left:29.5px;top:463px;transform:scaleX(0.975);" id="b1">11/13/2021 12:04 PM</div>
<div class="t g" style="left:137px;top:463px;text-decoration:underline;transform:scaleX(0.88);" id="b2">EST</div>
<div class="t g" style="left:350.9px;top:463px;transform:scaleX(0.995);" id="b3">12 hours</div>
<div class="t g" style="left:688px;top:463px;transform:scaleX(0.974);" id="b4">11/14/2021 12:02 AM</div>
<div class="t g" style="left:795.5px;top:463px;text-decoration:underline;transform:scaleX(0.86);" id="b5">EST</div>

<!-- SLIDER LABELS -->
<div class="sl" style="left:84px;">Sep '21</div>
<div class="sl" style="left:205px;">Nov '21</div>
<div class="sl" style="left:326.5px;">Jan '22</div>
<div class="sl" style="left:443.5px;">Mar '22</div>
<div class="sl" style="left:564.5px;">May '22</div>
<div class="sl" style="left:686px;">Jul '22</div>
<div class="t g" style="left:29.5px;top:530px;transform:scaleX(0.978);" id="b6">7/28/2021</div>
<div class="t g" style="left:405.5px;top:530px;transform:scaleX(0.954);" id="b7">1 year</div>
<div class="t g" style="left:761.5px;top:530px;transform:scaleX(0.995);" id="b8">7/29/2022</div>
<svg class="abs" style="left:0;top:0;" width="835" height="541" viewBox="0 0 835 541"><rect x="8.8" y="482.9" width="815.2" height="56.6" fill="none" stroke="#ff0000" stroke-width="5.6"/></svg>
</body></html>
